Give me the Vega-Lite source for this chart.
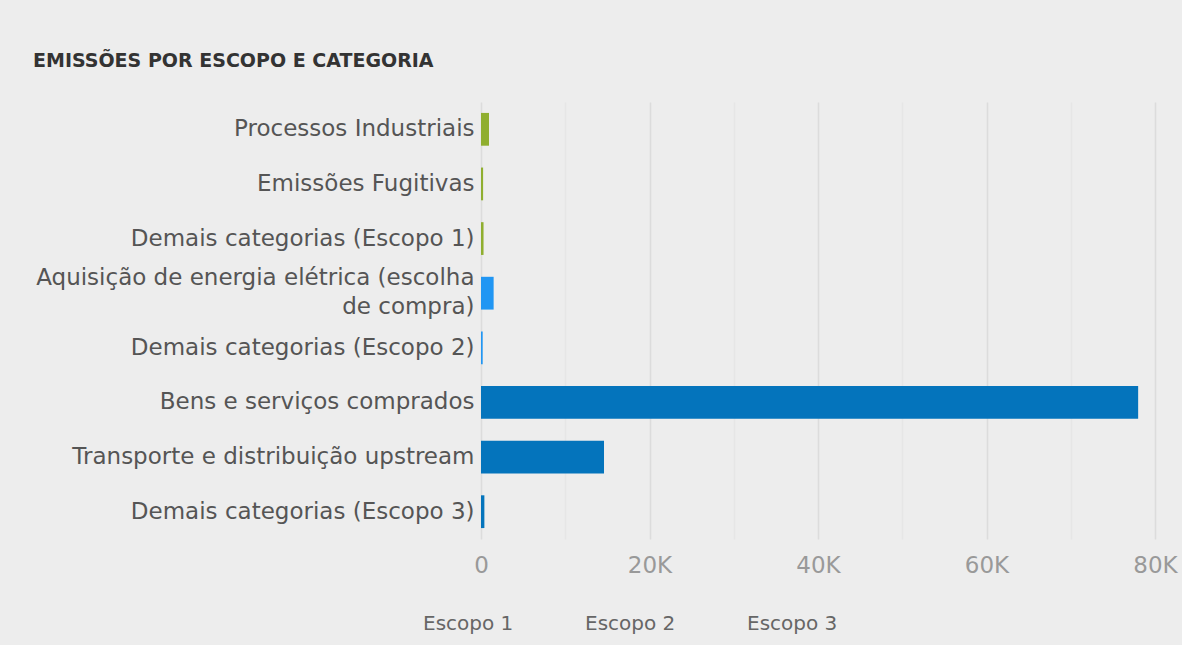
{
  "$schema": "https://vega.github.io/schema/vega-lite/v6.json",
  "autosize": "none",
  "width": 674,
  "height": 437,
  "padding": {"left": 481, "top": 102, "right": 27, "bottom": 106},
  "background": "#ededed",
  "title": {
    "text": "EMISSÕES POR ESCOPO E CATEGORIA",
    "anchor": "start",
    "frame": "group",
    "dx": -448,
    "offset": 31,
    "font": "DejaVu Sans",
    "fontSize": 19,
    "fontWeight": "bold",
    "color": "#333333"
  },
  "data": {
    "values": [
      {"categoria": "Processos Industriais", "escopo": "Escopo 1", "emissoes": 950, "ordem": 1},
      {"categoria": "Emissões Fugitivas", "escopo": "Escopo 1", "emissoes": 250, "ordem": 2},
      {"categoria": "Demais categorias (Escopo 1)", "escopo": "Escopo 1", "emissoes": 300, "ordem": 3},
      {"categoria": "Aquisição de energia elétrica (escolha de compra)", "escopo": "Escopo 2", "emissoes": 1500, "ordem": 4},
      {"categoria": "Demais categorias (Escopo 2)", "escopo": "Escopo 2", "emissoes": 200, "ordem": 5},
      {"categoria": "Bens e serviços comprados", "escopo": "Escopo 3", "emissoes": 78000, "ordem": 6},
      {"categoria": "Transporte e distribuição upstream", "escopo": "Escopo 3", "emissoes": 14600, "ordem": 7},
      {"categoria": "Demais categorias (Escopo 3)", "escopo": "Escopo 3", "emissoes": 400, "ordem": 8}
    ]
  },
  "mark": {"type": "bar"},
  "encoding": {
    "y": {
      "field": "categoria",
      "type": "nominal",
      "sort": {"field": "ordem", "order": "ascending"},
      "scale": {"paddingInner": 0.4, "paddingOuter": 0.2},
      "axis": {
        "title": null,
        "domain": false,
        "ticks": false,
        "labelPadding": 7,
        "labelFont": "DejaVu Sans",
        "labelFontSize": 23,
        "labelColor": "#555555",
        "labelLimit": 500,
        "labelLineHeight": 29,
        "labelOffset": {"condition": {"test": "datum.value == 'Aquisição de energia elétrica (escolha de compra)'", "value": -15}, "value": 0},
        "labelExpr": "datum.label == 'Aquisição de energia elétrica (escolha de compra)' ? ['Aquisição de energia elétrica (escolha', 'de compra)'] : datum.label"
      }
    },
    "x": {
      "field": "emissoes",
      "type": "quantitative",
      "scale": {"domain": [0, 80000], "nice": false},
      "axis": {
        "title": null,
        "values": [0, 10000, 20000, 30000, 40000, 50000, 60000, 70000, 80000],
        "labelExpr": "datum.value % 20000 === 0 ? (datum.value == 0 ? '0' : (datum.value / 1000) + 'K') : ''",
        "labelFlush": false,
        "domain": false,
        "ticks": false,
        "labelPadding": 15,
        "labelFont": "DejaVu Sans",
        "labelFontSize": 23,
        "labelColor": "#999999",
        "gridColor": {"condition": {"test": "datum.value % 20000 === 0", "value": "#dcdcdc"}, "value": "#e6e6e6"},
        "gridWidth": 1.5
      }
    },
    "color": {
      "field": "escopo",
      "type": "nominal",
      "scale": {"domain": ["Escopo 1", "Escopo 2", "Escopo 3"], "range": ["#8fae2f", "#2196f3", "#0474bc"]},
      "legend": {
        "title": null,
        "orient": "none",
        "direction": "horizontal",
        "legendX": -78,
        "legendY": 512,
        "symbolSize": 0,
        "symbolOpacity": 0,
        "labelOffset": 0,
        "columnPadding": 51,
        "labelFont": "DejaVu Sans",
        "labelFontSize": 20,
        "labelColor": "#666666"
      }
    }
  },
  "config": {"view": {"stroke": null}}
}
